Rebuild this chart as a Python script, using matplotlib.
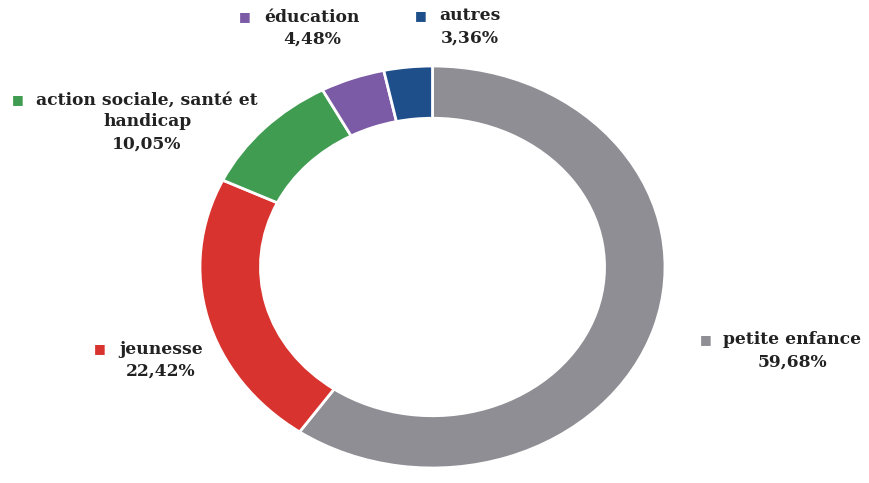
import matplotlib
matplotlib.use("Agg")
from matplotlib import pyplot as plt

categories = ["petite enfance", "jeunesse", "action sociale, santé et\nhandicap", "éducation", "autres"]
values = [59.68, 22.42, 10.05, 4.48, 3.36]
pct_labels = ["59,68%", "22,42%", "10,05%", "4,48%", "3,36%"]
colors = ["#8e8e94", "#d8332f", "#3f9c50", "#7b5aa6", "#1f4f8a"]

W, H = 869, 483
fig = plt.figure(figsize=(W / 100, H / 100), dpi=100)
fig.patch.set_facecolor("white")

# donut is a bit wider than tall in the reference
ax = fig.add_axes([200 / W, 1 - 468 / H, 465 / W, 402 / H])
ax.pie(values, colors=colors, startangle=90, counterclock=False, radius=1,
       wedgeprops=dict(width=0.26, edgecolor="white", linewidth=2))
ax.set_aspect("auto")
ax.set_xlim(-1, 1)
ax.set_ylim(-1, 1)
ax.axis("off")

# label placement in pixel coords: (marker x, marker y, text center x, first line y)
label_pos = [
    (706, 340, 792, 340),
    (100, 349, 161, 349),
    (18, 100, 147, 100),
    (245, 17, 312, 17),
    (421, 16, 470, 16),
]

font = dict(family="DejaVu Serif", weight="bold", size=12.3, color="#222222")
for cat, pct, col, (mx, my, tx, ty) in zip(categories, pct_labels, colors, label_pos):
    lines = cat.split("\n") + [pct]
    fig.text(mx / W, 1 - my / H, "■", color=col, fontsize=9, family="DejaVu Sans",
             ha="center", va="center")
    for i, line in enumerate(lines):
        fig.text(tx / W, 1 - (ty + i * 22) / H, line, ha="center", va="center", **font)

fig.savefig("out.png", dpi=100, facecolor="white")
